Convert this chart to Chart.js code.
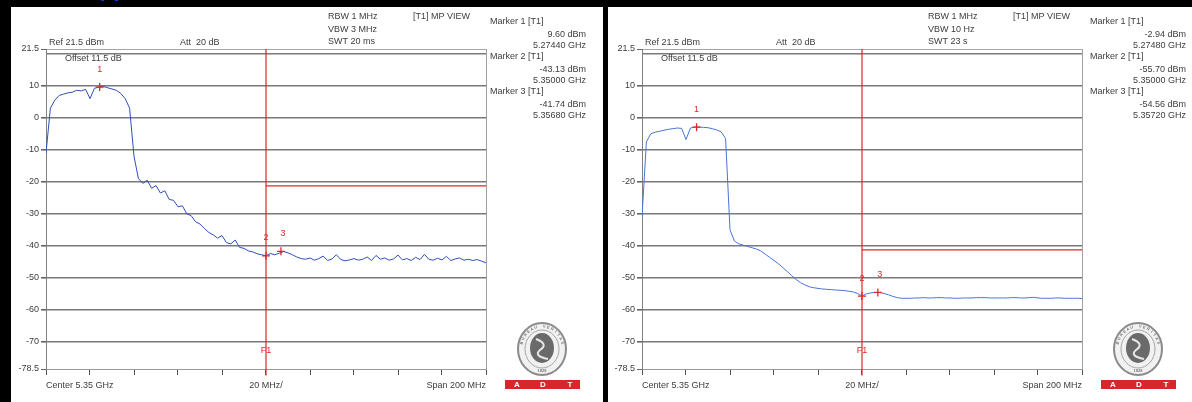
<!DOCTYPE html>
<html>
<head>
<meta charset="utf-8">
<script src="https://cdn.jsdelivr.net/npm/chart.js@4.4.1/dist/chart.umd.min.js"></script>
<style>
  html, body { margin: 0; padding: 0; background: #000; }
  body { width: 1192px; height: 402px; position: relative; overflow: hidden; }
  .panel { position: absolute; top: 7px; height: 395px; background: #fff; }
  #panel-a { left: 11px; width: 592px; }
  #panel-b { left: 608px; width: 584px; }
  .tag { position: absolute; z-index: 2; top: -20px; left: 98px; line-height: 19px;
         color: #1f3fd8; font: bold 19px "Liberation Sans", Arial, sans-serif; }
</style>
</head>
<body>
<div class="tag">(a)</div>
<div class="panel" id="panel-a"><canvas id="chart-a"></canvas></div>
<div class="panel" id="panel-b"><canvas id="chart-b"></canvas></div>
<script>
// frequency grid of the trace (GHz), 2 MHz steps
const freqs = [
  5.250, 5.252, 5.254, 5.256, 5.258, 5.260, 5.262, 5.264, 5.266, 5.268,
  5.270, 5.272, 5.274, 5.276, 5.278, 5.280, 5.282, 5.284, 5.286, 5.288,
  5.290, 5.292, 5.294, 5.296, 5.298, 5.300, 5.302, 5.304, 5.306, 5.308,
  5.310, 5.312, 5.314, 5.316, 5.318, 5.320, 5.322, 5.324, 5.326, 5.328,
  5.330, 5.332, 5.334, 5.336, 5.338, 5.340, 5.342, 5.344, 5.346, 5.348,
  5.350, 5.352, 5.354, 5.356, 5.358, 5.360, 5.362, 5.364, 5.366, 5.368,
  5.370, 5.372, 5.374, 5.376, 5.378, 5.380, 5.382, 5.384, 5.386, 5.388,
  5.390, 5.392, 5.394, 5.396, 5.398, 5.400, 5.402, 5.404, 5.406, 5.408,
  5.410, 5.412, 5.414, 5.416, 5.418, 5.420, 5.422, 5.424, 5.426, 5.428,
  5.430, 5.432, 5.434, 5.436, 5.438, 5.440, 5.442, 5.444, 5.446, 5.448,
  5.450
];
const xTicks = [5.25, 5.27, 5.29, 5.31, 5.33, 5.35, 5.37, 5.39, 5.41, 5.43, 5.45];
const xTickLabels = ["Center 5.35 GHz", "", "", "", "", "20 MHz/", "", "", "", "", "Span 200 MHz"];
const yTicks = [21.5, 20, 10, 0, -10, -20, -30, -40, -50, -60, -70, -78.5];
const displayFreq = 5.35;

// (a) peak trace, dBm
const levelsA = [
  -11, 3, 5.5, 7.0, 7.4, 7.8, 8.0, 8.6, 8.4, 8.9,
  6.0, 9.2, 9.6, 9.8, 9.4, 9.0, 8.6, 7.6, 6.0, 3.0,
  -12, -19, -20.5, -19.5, -22, -21.2, -23.5, -22.8, -25.5, -25.8,
  -27.8, -27.5, -30, -30.6, -32.5, -33.2, -34.6, -35.8, -36.6, -37.6,
  -36.8, -39, -39.4, -38.2, -40.5, -40.8, -41.6, -41.9, -42.5, -42.8,
  -43.1, -42.4, -42.8, -42.3, -41.8, -42.2, -42.8, -43.5, -44, -44.2,
  -43.8, -44.5, -44.0, -43.2, -44.6, -44.1, -42.8, -44.3, -44.7, -44.4,
  -44.0, -44.5, -44.2, -43.5, -44.6, -43.0, -44.2, -43.8, -44.5, -44.1,
  -42.9, -44.4, -44.0, -44.6, -43.6, -44.3, -42.7, -44.2, -44.5, -43.9,
  -44.4, -43.3, -44.6, -44.1, -43.8, -44.5, -44.2, -44.6, -44.3, -44.8,
  -45.3
];
// (b) average trace, dBm
const levelsB = [
  -31, -7.5, -5.0, -4.5, -4.2, -3.9, -3.6, -3.4, -3.2, -3.3,
  -6.8, -3.2, -2.9, -2.9, -3.0, -3.1, -3.4, -3.8, -4.4, -6.5,
  -35, -38.5, -39.4, -39.8, -40.2, -40.6, -41.0, -41.6, -42.6, -43.6,
  -44.6, -45.6, -46.8, -48.0, -49.3, -50.5, -51.5, -52.2, -52.8, -53.1,
  -53.3, -53.5, -53.6, -53.7, -53.8, -53.9, -54.0, -54.2, -54.4, -54.9,
  -55.7, -55.0, -54.7, -54.6, -54.6, -54.9, -55.3, -55.8, -56.2, -56.4,
  -56.4, -56.4, -56.3, -56.3, -56.2, -56.3, -56.3, -56.2, -56.2, -56.3,
  -56.3, -56.4, -56.4, -56.3, -56.3, -56.3, -56.2, -56.2, -56.2, -56.3,
  -56.3, -56.3, -56.3, -56.3, -56.2, -56.2, -56.3, -56.3, -56.2, -56.1,
  -56.3, -56.4, -56.4, -56.4, -56.3, -56.3, -56.4, -56.4, -56.4, -56.4,
  -56.5
];

const markerFreqsA = [5.2744, 5.35, 5.3568];
const markerLevelsA = [9.60, -43.13, -41.74];
const markerFreqsB = [5.2748, 5.35, 5.3572];
const markerLevelsB = [-2.94, -55.70, -54.56];
const limitA = -21.3;
const limitB = -41.3;
const settingsA = ["RBW 1 MHz", "VBW 3 MHz", "SWT 20 ms"];
const settingsB = ["RBW 1 MHz", "VBW 10 Hz", "SWT 23 s"];

const FONT = '"Liberation Sans", Arial, sans-serif';
const RED = "#e02626";
const TEXT = "#3c3c3c";

function drawLogo(ctx, cx, cy) {
  ctx.save();
  ctx.fillStyle = "#f1f1f1";
  ctx.strokeStyle = "#8a8a8a";
  ctx.lineWidth = 2;
  ctx.beginPath();
  ctx.ellipse(cx, cy, 24, 26, 0, 0, Math.PI * 2);
  ctx.fill();
  ctx.stroke();
  ctx.lineWidth = 1;
  ctx.strokeStyle = "#a5a5a5";
  ctx.beginPath();
  ctx.ellipse(cx, cy, 17, 19, 0, 0, Math.PI * 2);
  ctx.stroke();
  ctx.fillStyle = "#6a6a6a";
  ctx.beginPath();
  ctx.ellipse(cx, cy - 1, 12, 15, 0, 0, Math.PI * 2);
  ctx.fill();
  ctx.strokeStyle = "#e6e6e6";
  ctx.lineWidth = 2;
  ctx.beginPath();
  ctx.moveTo(cx - 6, cy - 10);
  ctx.quadraticCurveTo(cx + 7, cy - 5, cx - 2, cy + 1);
  ctx.quadraticCurveTo(cx - 9, cy + 7, cx + 6, cy + 10);
  ctx.stroke();
  // ring lettering
  ctx.fillStyle = "#7a7a7a";
  ctx.font = "bold 4px " + FONT;
  ctx.textAlign = "center";
  ctx.textBaseline = "middle";
  const ring = "BUREAU VERITAS";
  for (let i = 0; i < ring.length; i++) {
    const a = -Math.PI / 2 + (i - (ring.length - 1) / 2) * 0.2;
    ctx.save();
    ctx.translate(cx + Math.cos(a) * 21, cy + Math.sin(a) * 22.5);
    ctx.rotate(a + Math.PI / 2);
    ctx.fillText(ring[i], 0, 0);
    ctx.restore();
  }
  ctx.fillText("1828", cx, cy + 22);
  ctx.restore();
}

const analyzerText = {
  id: "analyzerText",
  afterDraw(chart, args, opts) {
    const ctx = chart.ctx;
    const { left: L, top: T, right: R, bottom: B } = chart.chartArea;
    const xs = chart.scales.x;
    const ys = chart.scales.y;
    const d = opts.shift;
    ctx.save();
    ctx.font = "9px " + FONT;
    ctx.fillStyle = TEXT;
    ctx.textBaseline = "middle";
    ctx.textAlign = "left";
    ctx.fillText("Ref 21.5 dBm", L + 3, T - 6);
    ctx.fillText("Att  20 dB", L + 134, T - 6);
    ctx.fillText("Offset 11.5 dB", L + 19, T + 10);
    opts.settings.forEach((s, i) => ctx.fillText(s, L + 282 + d, T - 32 + i * 12.5));
    ctx.fillText("[T1] MP VIEW", L + 367 + d, T - 32);

    opts.markerFreqs.forEach((f, i) => {
      const top = T - 27 + i * 35;
      ctx.fillStyle = TEXT;
      ctx.textAlign = "left";
      ctx.fillText(`Marker ${i + 1} [T1]`, R + 4 + d, top);
      ctx.textAlign = "right";
      ctx.fillText(`${opts.markerLevels[i].toFixed(2)} dBm`, R + 100 + d, top + 13);
      ctx.fillText(`${f.toFixed(5)} GHz`, R + 100 + d, top + 24);
      // marker number on the trace
      ctx.fillStyle = RED;
      ctx.textAlign = "center";
      ctx.fillText(String(i + 1), xs.getPixelForValue(f) + (i === 2 ? 2 : 0),
        ys.getPixelForValue(opts.markerLevels[i]) - 18);
    });

    ctx.fillStyle = RED;
    ctx.textAlign = "center";
    ctx.fillText("F1", xs.getPixelForValue(displayFreq), B - 18);

    drawLogo(ctx, R + 56, B - 20);
    ctx.fillStyle = "#d8262b";
    ctx.fillRect(R + 19, B + 11, 75, 9);
    ctx.fillStyle = "#fff";
    ctx.font = "bold 8px " + FONT;
    ctx.fillText("A", R + 31, B + 16);
    ctx.fillText("D", R + 57, B + 16);
    ctx.fillText("T", R + 84, B + 16);
    ctx.restore();
  }
};

function makePanel(canvasId, levels, markerFreqs, markerLevels, limit, settings, traceColor, shift, axisWidth, rightPad) {
  const isFrame = (v) => v === 21.5 || v === -78.5;
  return new Chart(document.querySelector(canvasId), {
    type: "line",
    data: {
      datasets: [
        {
          data: markerFreqs.map((f, i) => ({ x: f, y: markerLevels[i] })),
          showLine: false,
          pointStyle: "cross",
          pointRadius: 4,
          borderColor: RED,
          borderWidth: 1.3,
        },
        {
          data: freqs.map((f, i) => ({ x: f, y: levels[i] })),
          borderColor: traceColor,
          borderWidth: 1,
          pointRadius: 0,
          tension: 0,
        },
        {
          data: [{ x: displayFreq, y: limit }, { x: 5.45, y: limit }],
          borderColor: RED,
          borderWidth: 1.3,
          pointRadius: 0,
        },
        {
          data: [{ x: displayFreq, y: 21.5 }, { x: displayFreq, y: -80.5 }],
          borderColor: RED,
          borderWidth: 1.2,
          pointRadius: 0,
          clip: false,
        },
      ],
    },
    options: {
      animation: false,
      responsive: true,
      maintainAspectRatio: false,
      layout: { padding: { top: 42, right: rightPad, left: 0, bottom: 0 } },
      plugins: {
        legend: { display: false },
        tooltip: { enabled: false },
        analyzerText: { settings, markerFreqs, markerLevels, shift },
      },
      scales: {
        x: {
          type: "linear",
          min: 5.25,
          max: 5.45,
          afterBuildTicks: (scale) => {
            scale.ticks = xTicks.map((v) => ({ value: v }));
          },
          afterFit: (scale) => {
            scale.height = 33;
          },
          ticks: {
            autoSkip: false,
            maxRotation: 0,
            minRotation: 0,
            align: "inner",
            padding: 5,
            color: TEXT,
            font: { family: FONT, size: 9 },
            callback: (v, i) => xTickLabels[i],
          },
          grid: {
            drawOnChartArea: true,
            color: (c) => (c.index === 10 ? "#a0a0a0" : "rgba(0,0,0,0)"),
            tickColor: "#555",
            tickLength: 6,
            lineWidth: 1,
          },
          border: { color: "#9a9a9a", width: 1 },
        },
        y: {
          min: -78.5,
          max: 21.5,
          afterBuildTicks: (scale) => {
            scale.ticks = yTicks.map((v) => ({ value: v }));
          },
          afterFit: (scale) => {
            scale.width = axisWidth;
          },
          ticks: {
            autoSkip: false,
            padding: 2,
            color: TEXT,
            font: { family: FONT, size: 9 },
            callback: (v) => (v === 20 ? "" : String(v)),
          },
          grid: {
            color: (c) => (isFrame(c.tick.value) ? "#a5a5a5" : "#7a7a7a"),
            lineWidth: (c) => (isFrame(c.tick.value) ? 1 : 1.6),
            tickColor: (c) => (c.tick.value === 20 ? "rgba(0,0,0,0)" : "#666"),
            tickLength: 5,
          },
          border: { color: "#808080", width: 1 },
        },
      },
    },
    plugins: [analyzerText],
  });
}

makePanel("#chart-a", levelsA, markerFreqsA, markerLevelsA, limitA, settingsA, "#2e4fb8", 0, 35, 117);
makePanel("#chart-b", levelsB, markerFreqsB, markerLevelsB, limitB, settingsB, "#4a74d4", 4, 34, 110);
</script>
</body>
</html>
